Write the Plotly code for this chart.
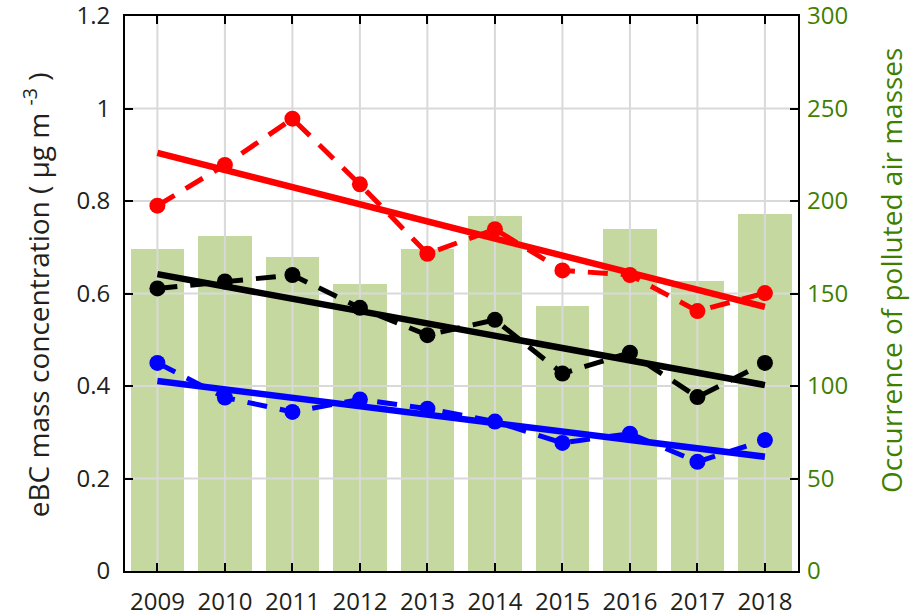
import plotly.graph_objects as go

years = [2009, 2010, 2011, 2012, 2013, 2014, 2015, 2016, 2017, 2018]
occurrence = [174, 181, 170, 155, 174, 192, 143, 185, 157, 193]
ebc_red = [0.790, 0.878, 0.978, 0.836, 0.686, 0.739, 0.650, 0.640, 0.562, 0.601]
ebc_black = [0.611, 0.626, 0.640, 0.569, 0.510, 0.543, 0.427, 0.472, 0.376, 0.450]
ebc_blue = [0.450, 0.375, 0.344, 0.371, 0.351, 0.323, 0.277, 0.297, 0.236, 0.283]
trend_years = [2009, 2018]
trend_red = [0.904, 0.571]
trend_black = [0.642, 0.402]
trend_blue = [0.411, 0.247]
left_ticks = [0, 0.2, 0.4, 0.6, 0.8, 1.0, 1.2]
left_labels = ["0", "0.2", "0.4", "0.6", "0.8", "1", "1.2"]
right_ticks = [0, 50, 100, 150, 200, 250, 300]

FONT = "Open Sans"
GREEN = "#3f7f00"
TXT = "#231f20"
GRID = "#d9d9d9"
xr = [2008.52, 2018.49]
yr = [0, 1.2]

fig = go.Figure()
# lower subplot (x, y): bars on the right-hand axis
fig.add_trace(go.Bar(x=years, y=occurrence, width=0.79, marker=dict(color="#c5d89f", line=dict(width=0)),
                     xaxis="x", yaxis="y", showlegend=False, hoverinfo="skip"))

# upper subplot (x2, y2): grid (drawn over the bars), then the concentration series
gx, gy = [], []
for yv in years:
    gx += [yv, yv, None]
    gy += [yr[0], yr[1], None]
for t in left_ticks[1:-1]:
    gx += [xr[0], xr[1], None]
    gy += [t, t, None]
fig.add_trace(go.Scatter(x=gx, y=gy, mode="lines", line=dict(color=GRID, width=2),
                         xaxis="x2", yaxis="y2", showlegend=False, hoverinfo="skip"))

dash = "20px,13px"
for vals, trend, col in [(ebc_red, trend_red, "#ff0000"), (ebc_black, trend_black, "#000000"),
                         (ebc_blue, trend_blue, "#0000ff")]:
    fig.add_trace(go.Scatter(x=years, y=vals, mode="lines+markers", xaxis="x2", yaxis="y2",
                             line=dict(color=col, width=5, dash=dash),
                             marker=dict(color=col, size=16), showlegend=False))
    fig.add_trace(go.Scatter(x=trend_years, y=trend, mode="lines", xaxis="x2", yaxis="y2",
                             line=dict(color=col, width=6.5), showlegend=False))

TICKF = dict(size=24, family=FONT, color=TXT)
common = dict(zeroline=False, showgrid=False, automargin=False, ticklabeloverflow="allow")
fig.update_layout(
    width=918, height=614,
    margin=dict(l=125, r=120, t=16, b=43),
    paper_bgcolor="white", plot_bgcolor="rgba(0,0,0,0)",
    font=dict(family=FONT, size=24, color=TXT),
    bargap=0,
    xaxis=dict(domain=[0, 1], range=xr, visible=False, anchor="y", **common),
    yaxis=dict(domain=[0, 1], range=[0, 300], side="right", anchor="x", tickvals=right_ticks,
               showline=False, ticks="", tickfont=dict(color=GREEN, size=24, family=FONT),
               ticklabelstandoff=8, **common),
    xaxis2=dict(domain=[0, 1], range=xr, anchor="y2", tickvals=years,
                showline=True, linecolor="black", linewidth=2, mirror="ticks",
                ticks="inside", ticklen=8, tickwidth=2, tickcolor="black",
                tickfont=TICKF, ticklabelstandoff=8, **common),
    yaxis2=dict(domain=[0, 1], range=yr, anchor="x2", side="left", tickvals=left_ticks,
                ticktext=left_labels, mirror="ticks",
                showline=True, linecolor="black", linewidth=2,
                ticks="inside", ticklen=8, tickwidth=2, tickcolor="black",
                tickfont=TICKF, ticklabelstandoff=8, **common),
    annotations=[
        dict(text="eBC mass concentration ( μg m <sup>-3</sup> )", xref="paper", yref="paper",
             x=-0.1322, y=0.497, textangle=-90, showarrow=False, xanchor="center", yanchor="middle",
             font=dict(size=28, family=FONT, color=TXT)),
        dict(text="Occurrence of polluted air masses", xref="paper", yref="paper",
             x=1.138, y=0.542, textangle=-90, showarrow=False, xanchor="center", yanchor="middle",
             font=dict(size=28, family=FONT, color=GREEN)),
        dict(text="(a)", xref="paper", yref="paper", x=0.26, y=1.019, showarrow=False,
             xanchor="center", yanchor="bottom", font=dict(size=24, family=FONT, color=TXT)),
    ],
)

fig.write_html("out.html", config={"displayModeBar": False},
               post_script="document.body.style.margin='0px';")
